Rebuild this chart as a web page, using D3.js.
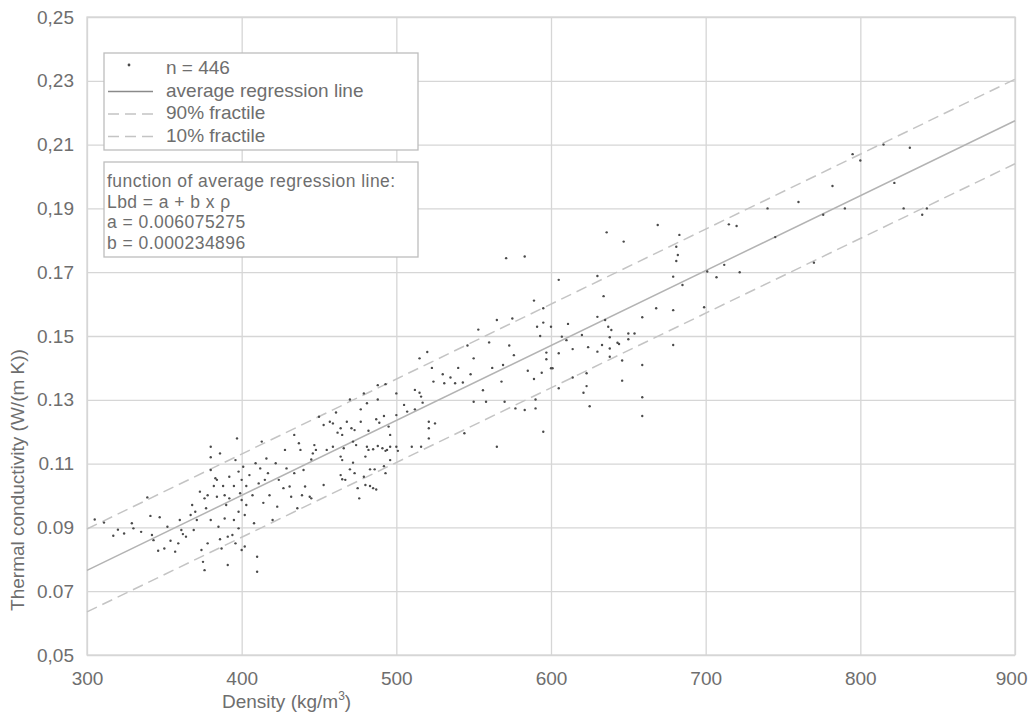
<!DOCTYPE html>
<html>
<head>
<meta charset="utf-8">
<script src="https://cdn.jsdelivr.net/npm/d3@7"></script>
<style>
    body { margin: 0; background: #fff; }
    svg text { font-family: "Liberation Sans", Arial, Helvetica, sans-serif; }
</style>
</head>
<body>
<svg id="chart" width="1029" height="716"></svg>
<script>
// axis ticks
const xTicks = [300, 400, 500, 600, 700, 800, 900];
const yTicks = [0.05, 0.07, 0.09, 0.11, 0.13, 0.15, 0.17, 0.19, 0.21, 0.23, 0.25];
const yTickLabels = ['0,05', '0.07', '0.09', '0.11', '0.13', '0.15', '0.17', '0,19', '0,21', '0,23', '0,25'];

// regression line Lbd = a + b * rho, and fractile lines
const coefA = 0.006075275;
const coefB = 0.000234896;
const fractile90 = [[300, 0.0895], [900, 0.2305]];
const fractile10 = [[300, 0.0635], [900, 0.2040]];

// measured points [density, conductivity]
const samples = [
    [305,0.0925],[311,0.0915],[317,0.0874],[320,0.0893],[324,0.0881],[329,0.0913],[330,0.0897],[335,0.0886],
    [339,0.0994],[341,0.0936],[342,0.0876],[343,0.0860],[346,0.0827],[347,0.0932],[350,0.0834],[352,0.0902],
    [354,0.0858],[357,0.0824],[359,0.0850],[360,0.0923],[361,0.0892],[362,0.0879],[364,0.0871],[367,0.0939],
    [369,0.0892],[368,0.0970],[370,0.0949],[371,0.0923],[373,0.1012],[374,0.0829],[375,0.0792],[376,0.0766],
    [376,0.0991],[377,0.0960],[378,0.1001],[378,0.0850],[380,0.1153],[380,0.1120],[380,0.1080],[380,0.0923],
    [382,0.1030],[383,0.1054],[384,0.1049],[384,0.0996],[385,0.0902],[386,0.1132],[386,0.0863],[387,0.0834],
    [388,0.1030],[389,0.1001],[389,0.0928],[390,0.0970],[391,0.0871],[391,0.0782],[392,0.1059],[392,0.0991],
    [394,0.0876],[395,0.0923],[395,0.1030],[396,0.1111],[396,0.0850],[397,0.1179],[398,0.1075],[398,0.0949],
    [398,0.0897],[399,0.1007],[400,0.1049],[400,0.0986],[400,0.0829],[401,0.1090],[402,0.0939],[402,0.0840],
    [403,0.1030],[403,0.0970],[405,0.1064],[407,0.1001],[408,0.0913],[409,0.1101],[410,0.0808],[410,0.0761],
    [411,0.1038],[412,0.1085],[413,0.1169],[414,0.0977],[415,0.1049],[416,0.1116],[417,0.1070],[418,0.1001],
    [420,0.0923],[422,0.1101],[423,0.0965],[424,0.1049],[427,0.1023],[428,0.1143],[429,0.1085],[431,0.1028],
    [432,0.0996],[434,0.1070],[434,0.1190],[436,0.0960],[437,0.1164],[438,0.1143],[439,0.1001],[440,0.1080],
    [441,0.1028],[444,0.0996],[445,0.0991],[445,0.1113],[446,0.1132],[447,0.1158],[448,0.1143],[450,0.1247],
    [453,0.1221],[453,0.1033],[455,0.1143],[457,0.1231],[459,0.1226],[459,0.1153],[461,0.1260],[462,0.1197],
    [464,0.1211],[464,0.1122],[464,0.1064],[465,0.1190],[465,0.1111],[465,0.1051],[466,0.1148],[467,0.1049],
    [468,0.1231],[470,0.1301],[470,0.1082],[471,0.1211],[472,0.1169],[472,0.1103],[473,0.1205],[473,0.1070],
    [474,0.1158],[475,0.1023],[476,0.0991],[477,0.1270],[477,0.1231],[479,0.1320],[479,0.1059],[480,0.1122],
    [480,0.1033],[481,0.1289],[481,0.1153],[482,0.1203],[482,0.1143],[483,0.1030],[483,0.1082],[485,0.1145],
    [485,0.1023],[486,0.1082],[487,0.1239],[487,0.1019],[488,0.1346],[488,0.1301],[488,0.1155],[489,0.1228],
    [491,0.1148],[492,0.1249],[492,0.1092],[493,0.1349],[493,0.1140],[493,0.1070],[494,0.1143],[495,0.1216],
    [496,0.1190],[496,0.1153],[496,0.1111],[500,0.1320],[500,0.1252],[500,0.1153],[501,0.1140],[505,0.1284],
    [507,0.1263],[510,0.1153],[512,0.1331],[512,0.1270],[515,0.1322],[515,0.1430],[516,0.1310],[516,0.1153],
    [517,0.1291],[520,0.1450],[521,0.1231],[521,0.1211],[521,0.1179],[523,0.1400],[524,0.1357],[525,0.1226],
    [530,0.1380],[531,0.1352],[535,0.1370],[538,0.1352],[540,0.1400],[543,0.1354],[544,0.1195],[546,0.1470],
    [548,0.1380],[550,0.1430],[550,0.1294],[553,0.1520],[556,0.1330],[558,0.1294],[560,0.1480],[562,0.1400],
    [565,0.1550],[565,0.1153],[568,0.1357],[569,0.1409],[570,0.1294],[571,0.1744],[573,0.1470],[575,0.1555],
    [576,0.1440],[577,0.1273],[583,0.1749],[583,0.1268],[585,0.1391],[589,0.1611],[589,0.1365],[590,0.1301],
    [590,0.1273],[591,0.1529],[593,0.1500],[594,0.1385],[595,0.1587],[595,0.1542],[595,0.1200],[597,0.1448],
    [597,0.1427],[600,0.1529],[600,0.1399],[601,0.1399],[605,0.1676],[605,0.1446],[605,0.1336],[607,0.1498],
    [610,0.1487],[611,0.1538],[614,0.1459],[614,0.1370],[620,0.1503],[621,0.1322],[623,0.1383],[623,0.1343],
    [624,0.1465],[625,0.1280],[630,0.1688],[630,0.1560],[630,0.1451],[633,0.1472],[634,0.1625],[635,0.1550],
    [636,0.1825],[637,0.1529],[638,0.1496],[638,0.1461],[638,0.1435],[639,0.1519],[643,0.1479],[644,0.1475],
    [646,0.1423],[646,0.1360],[647,0.1796],[650,0.1508],[650,0.1490],[654,0.1508],[659,0.1559],[659,0.1409],
    [659,0.1308],[659,0.1249],[668,0.1587],[669,0.1848],[679,0.1686],[679,0.1581],[679,0.1472],[681,0.1780],
    [681,0.1735],[682,0.1754],[683,0.1817],[685,0.1660],[699,0.1590],[701,0.1702],[707,0.1684],[712,0.1723],
    [715,0.1850],[720,0.1845],[722,0.1700],[740,0.1900],[745,0.1810],[760,0.1920],[770,0.1730],[776,0.1880],
    [782,0.1970],[790,0.1900],[795,0.2070],[800,0.2050],[815,0.2100],[822,0.1980],[828,0.1900],[832,0.2090],
    [840,0.1880],[843,0.1900]
];

const legendItems = [
    { kind: 'dot', label: 'n = 446' },
    { kind: 'solid', label: 'average regression line' },
    { kind: 'dash', label: '90% fractile' },
    { kind: 'dash', label: '10% fractile' },
];
const formulaLines = [
    'function of average regression line:',
    'Lbd = a + b x \u03c1',
    'a = 0.006075275',
    'b = 0.000234896',
];

const textColor = '#6e6e6e';
const gridColor = '#d6d6d6';
const lineColor = '#b3b3b3';
const dashColor = '#c4c4c4';

const plotLeft = 87, plotRight = 1015, plotTop = 17, plotBottom = 655;

const svg = d3.select('#chart');

const x = d3.scaleLinear().domain([300, 900]).range([plotLeft, plotRight]);
const y = d3.scaleLinear().domain([0.05, 0.25]).range([plotBottom, plotTop]);

// grid + tick labels
const xAxis = svg.append('g')
    .attr('transform', `translate(0,${plotBottom})`)
    .call(d3.axisBottom(x)
        .tickValues(xTicks)
        .tickSize(-(plotBottom - plotTop))
        .tickPadding(17)
        .tickFormat(d3.format('d')));

const yAxis = svg.append('g')
    .attr('transform', `translate(${plotLeft},0)`)
    .call(d3.axisLeft(y)
        .tickValues(yTicks)
        .tickSize(-(plotRight - plotLeft))
        .tickPadding(13)
        .tickFormat((d, i) => yTickLabels[i]));

[xAxis, yAxis].forEach(g => {
    g.select('.domain').remove();
    g.selectAll('.tick line')
        .style('stroke', gridColor)
        .style('stroke-width', 1.3);
    g.selectAll('.tick text')
        .style('fill', textColor)
        .style('font-size', '19px');
});

// last x label sits against the right edge of the page
xAxis.selectAll('.tick text')
    .filter(d => d === 900)
    .attr('text-anchor', 'end')
    .attr('x', 12);

svg.append('rect')
    .attr('x', plotLeft)
    .attr('y', plotTop)
    .attr('width', plotRight - plotLeft)
    .attr('height', plotBottom - plotTop)
    .style('fill', 'none')
    .style('stroke', gridColor)
    .style('stroke-width', 1.3);

// axis titles
const xTitle = svg.append('text')
    .attr('x', 222)
    .attr('y', 708)
    .style('fill', textColor)
    .style('font-size', '19px');
xTitle.append('tspan').text('Density (kg/m');
xTitle.append('tspan').text('3').attr('dy', -8).style('font-size', '12px');
xTitle.append('tspan').text(')').attr('dy', 8);

svg.append('text')
    .attr('transform', 'translate(24,480) rotate(-90)')
    .attr('text-anchor', 'middle')
    .style('fill', textColor)
    .style('font-size', '19px')
    .text('Thermal conductivity (W/(m K))');

// lines
const line = d3.line().x(d => x(d[0])).y(d => y(d[1]));
const avgLine = x.domain().map(d => [d, coefA + coefB * d]);

svg.append('path')
    .attr('d', line(fractile90))
    .style('fill', 'none')
    .style('stroke', dashColor)
    .style('stroke-width', 1.5)
    .style('stroke-dasharray', '11,6');

svg.append('path')
    .attr('d', line(fractile10))
    .style('fill', 'none')
    .style('stroke', dashColor)
    .style('stroke-width', 1.5)
    .style('stroke-dasharray', '11,6');

svg.append('path')
    .attr('d', line(avgLine))
    .style('fill', 'none')
    .style('stroke', lineColor)
    .style('stroke-width', 1.5);

// points
svg.append('g')
    .selectAll('circle')
    .data(samples)
    .enter().append('circle')
    .attr('cx', d => x(d[0]))
    .attr('cy', d => y(d[1]))
    .attr('r', 1.2)
    .style('fill', '#4a4a4a');

// legend
const legend = svg.append('g');
legend.append('rect')
    .attr('x', 104).attr('y', 53)
    .attr('width', 314).attr('height', 97)
    .style('fill', 'white')
    .style('stroke', '#bdbdbd')
    .style('stroke-width', 1.3);

const item = legend.selectAll('.item')
    .data(legendItems)
    .enter().append('g')
    .attr('class', 'item')
    .attr('transform', (d, i) => `translate(0,${68 + i * 22.5})`);

item.filter(d => d.kind === 'dot').append('circle')
    .attr('cx', 129).attr('cy', -3).attr('r', 1.4)
    .style('fill', '#4a4a4a');
item.filter(d => d.kind !== 'dot').append('line')
    .attr('x1', 108).attr('x2', 153)
    .attr('y1', 1).attr('y2', 1)
    .style('stroke', d => d.kind === 'solid' ? '#8a8a8a' : dashColor)
    .style('stroke-width', 1.3)
    .style('stroke-dasharray', d => d.kind === 'dash' ? '11,6' : null);
item.append('text')
    .attr('x', 166)
    .attr('y', 6)
    .style('fill', textColor)
    .style('font-size', '19px')
    .text(d => d.label);

legend.append('rect')
    .attr('x', 104).attr('y', 162)
    .attr('width', 314).attr('height', 95)
    .style('fill', 'white')
    .style('stroke', '#bdbdbd')
    .style('stroke-width', 1.3);

legend.selectAll('.formula')
    .data(formulaLines)
    .enter().append('text')
    .attr('class', 'formula')
    .attr('x', 107)
    .attr('y', (d, i) => 187 + i * 20.5)
    .style('fill', textColor)
    .style('font-size', '17.5px')
    .style('letter-spacing', '0.45px')
    .text(d => d);
</script>
</body>
</html>
